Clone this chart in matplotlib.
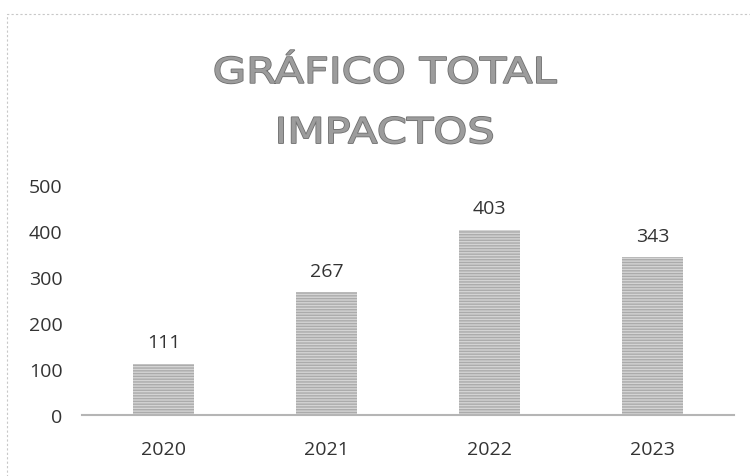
import matplotlib
matplotlib.use('Agg')
import matplotlib.pyplot as plt
import matplotlib.patheffects as pe
from matplotlib.patches import Rectangle
from matplotlib.transforms import Affine2D

years = ['2020', '2021', '2022', '2023']
impactos = [111, 267, 403, 343]
yticks = [0, 100, 200, 300, 400, 500]

plt.rcParams['font.family'] = ['Open Sans', 'DejaVu Sans']

TITLE_X = 0.513
STRETCH = 1.22


# ensancha el título en horizontal (el original tiene letras muy espaciadas)
def _stretch(renderer):
    cx = TITLE_X * renderer.width
    return Affine2D().translate(-cx, 0).scale(STRETCH, 1).translate(cx, 0)


class StretchStroke(pe.Stroke):
    def _offset_transform(self, renderer):
        return _stretch(renderer)


class StretchNormal(pe.AbstractPathEffect):
    def draw_path(self, renderer, gc, tpath, affine, rgbFace=None):
        renderer.draw_path(gc, tpath, affine + _stretch(renderer), rgbFace)


fig = plt.figure(figsize=(7.5, 4.77), dpi=100)
ax = fig.add_axes([0.1093, 0.1279, 0.8693, 0.482])

bars = ax.bar(range(len(years)), impactos, width=0.375, color='#d4d4d4',
              edgecolor='#ababab', linewidth=0, hatch='------')
for i, v in enumerate(impactos):
    ax.annotate(str(v), (i, v), xytext=(0, 9), textcoords='offset points',
                ha='center', va='bottom', fontsize=14, color='#333333')

ax.set_xlim(-0.5, len(years) - 0.5)
ax.set_ylim(0, 500)
ax.set_xticks(range(len(years)))
ax.set_xticklabels(years)
ax.set_yticks(yticks)
ax.tick_params(axis='both', length=0, labelsize=14, labelcolor='#333333')
ax.tick_params(axis='y', pad=14)
ax.tick_params(axis='x', pad=18)
for s in ['top', 'right', 'left']:
    ax.spines[s].set_visible(False)
ax.spines['bottom'].set_color('#b5b5b5')
ax.spines['bottom'].set_linewidth(1.5)

fig.text(TITLE_X, 0.782, 'GRÁFICO TOTAL\nIMPACTOS', ha='center', va='center',
         fontsize=25.5, color='#9c9c9c', linespacing=1.97,
         family=['DejaVu Sans'],
         path_effects=[StretchStroke(linewidth=1.2, foreground='#707070'),
                       StretchNormal()])

# marco del gráfico
fig.patches.append(Rectangle((0.009, -0.01), 1.1, 0.978, transform=fig.transFigure,
                             fill=False, edgecolor='#c8c8c8', linewidth=0.8,
                             linestyle=(0, (2, 2))))

fig.savefig('out.png', dpi=100)
